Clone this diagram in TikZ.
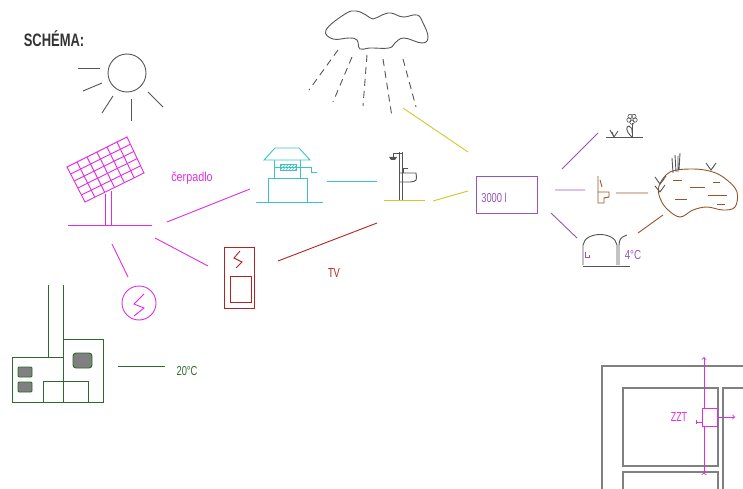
\documentclass[tikz,border=0pt]{standalone}
\usepackage{fontspec}
\setmainfont{Liberation Sans}
\usetikzlibrary{arrows,patterns,calc}

\definecolor{panelmag}{RGB}{225,45,225}
\definecolor{wellcyan}{RGB}{60,195,195}
\definecolor{heatred}{RGB}{180,35,35}
\definecolor{rainyel}{RGB}{210,200,40}
\definecolor{tankvio}{RGB}{150,85,190}
\definecolor{pondbrn}{RGB}{150,85,40}
\definecolor{boilgrn}{RGB}{45,105,45}
\definecolor{sketch}{RGB}{85,85,85}

\tikzset{
  lbl/.style={inner sep=0pt, xscale=0.72, font=\fontsize{13}{14}\selectfont},
  wall/.style={draw=gray, line width=1.3pt},
}

\begin{document}
\begin{tikzpicture}[x=1pt, y=-1pt, line width=0.9pt, >=to]
\useasboundingbox (0,0) rectangle (743,489);

\node[inner sep=0pt, xscale=0.72, text=black!80, font=\fontsize{18}{20}\selectfont\bfseries] (title) at (54,39) {SCHÉMA:};

% sun
\node[circle, draw=sketch, minimum size=38pt, inner sep=0pt] (sun) at (127,73) {};
\foreach \x/\y/\u/\v in {78/68/100/68, 83/91/102/83, 102/113/113/96,
                         131/121/131/99, 163/107/148/92}
  \draw[sketch] (\x,\y) -- (\u,\v);

% cloud and rain
\draw[sketch] plot[smooth cycle, tension=0.7] coordinates {
  (326,30) (345,14) (356,11) (366,15) (373,19) (382,15) (391,13) (403,17)
  (417,15) (423,23) (428,37) (422,43) (404,38) (395,43) (389,48) (370,48)
  (360,49) (357,40) (349,38) (333,39)};
\foreach \x/\y/\u/\v in {338/50/309/90, 352/57/333/102, 367/55/363/106,
                         383/59/392/117, 403/59/416/107}
  \draw[sketch, dash pattern=on 7pt off 5pt] (\x,\y) -- (\u,\v);

% solar panel
\coordinate (pA) at (67,167);
\coordinate (pB) at (127,137);
\coordinate (pC) at (144,173);
\coordinate (pD) at (85,202);
\draw[panelmag] (pA) -- (pB) -- (pC) -- (pD) -- cycle;
\foreach \i in {1,...,5}
  \draw[panelmag] ($(pA)!\i/6!(pB)$) -- ($(pD)!\i/6!(pC)$);
\foreach \j in {1,...,4}
  \draw[panelmag] ($(pA)!\j/5!(pD)$) -- ($(pB)!\j/5!(pC)$);
\draw[panelmag] (105,194) -- (105,225) (111,191) -- (111,225);
\draw[panelmag] (68,225) -- (152,225);
\node[lbl, xscale=1.15, text=panelmag] (pump) at (192,178) {čerpadlo};

% socket
\node[circle, draw=panelmag, minimum size=34pt, inner sep=0pt] (socket) at (139,303) {};
\draw[panelmag] (144,294) -- (134,304) -- (144,308) -- (134,316);

% heater
\node[draw=heatred, minimum width=30pt, minimum height=61pt, inner sep=0pt] (heater) at (239,277.5) {};
\draw[heatred] (230,276) rectangle (251,302);
\draw[heatred] (240,251) -- (234,258) -- (242,262) -- (236,268);
\node[lbl, text=heatred] (tv) at (334,273) {TV};

% well
\draw[wellcyan] (264,160) -- (275,148) -- (299,148) -- (310,160) -- cycle;
\draw[wellcyan] (274,160) -- (274,178) (300,160) -- (300,178);
\draw[wellcyan, pattern=north east lines, pattern color=wellcyan] (280,164) rectangle (296,170);
\draw[wellcyan] (274,167) -- (311,167) -- (311,172) -- (317,172);
\node[draw=wellcyan, minimum width=39pt, minimum height=24pt, inner sep=0pt] (well) at (287.5,190) {};
\draw[wellcyan] (256,202) -- (323,202);

% shower with sink
\draw[sketch] (399,200) -- (399,152) (402,200) -- (402,152);
\draw[sketch] (402,153) -- (393,153) -- (393,157);
\fill[sketch] (389,157) -- (397,157) -- (395,160) -- (391,160) -- cycle;
\draw[sketch] (400,173) -- (416,173) .. controls (417,181) .. (410,182) -- (400,182);
\draw[sketch] (403,173) -- (403,168) -- (408,168);
\draw[rainyel] (384,200) -- (425,200);

% tank
\node[draw=tankvio, minimum width=61pt, minimum height=37pt, inner sep=0pt] (tank) at (506.5,194.5) {};
\node[lbl, text=tankvio, anchor=south west] (vol) at (481,203.5) {3000 l};

% garden
\draw[sketch] (606,137) -- (643,137);
\draw[sketch] (610,130) -- (614,137) -- (618,131) (614,137) -- (612,132);
\draw[sketch] (632,137) -- (632,123);
\draw[sketch] (632,137) .. controls (625,131) and (626,126) .. (629,126) .. controls (632,128) .. (632,133);
\foreach \ang in {90,162,234,306,378}
  \draw[sketch, line width=0.6pt] (632,119) ++(\ang:3.2) circle (2.2pt);

% toilet
\draw[pondbrn] (598,176) -- (598,203) -- (604,203) -- (604,198) -- (609,197) -- (609,192) -- (598,192);
\draw[pondbrn] (600,180) -- (602,187);

% pond
\draw[pondbrn] plot[smooth cycle, tension=0.6] coordinates {
  (659,186) (670,172) (693,169) (713,172) (727,180) (737,192) (735,207)
  (723,210) (707,207) (693,210) (680,217) (667,209) (660,198)};
\foreach \x/\y/\u in {673/180/682, 690/187/705, 713/182/720, 675/199/687, 708/195/727, 717/204/725}
  \draw[pondbrn] (\x,\y) -- (\u,\y);
\draw[sketch] (672,158) -- (673,173) (675,155) -- (676,172) (678,156) -- (678,172) (680,153) -- (679,170);
\draw[sketch] (655,177) -- (660,184) -- (666,176) (660,184) -- (664,179);
\draw[sketch] (655,186) -- (660,192) -- (665,185);
\draw[sketch] (706,163) -- (711,170) -- (716,163) (711,170) -- (714,166);

% cellar
\draw[sketch] (583,265) -- (583,245) .. controls (585,231) and (615,231) .. (617,245) -- (617,265);
\draw[sketch] (619,265) -- (619,245) .. controls (620,238) .. (627,235);
\draw[sketch] (583,266) -- (630,266);
\draw[tankvio] (585,252) -- (585,257) -- (589,257) -- (589,255);
\node[lbl, xscale=1.05, text=tankvio] (temp-c) at (633,255) {4°C};

% boiler room
\draw[boilgrn] (48,285) -- (48,357) (63,285) -- (63,339);
\draw[boilgrn] (12,357) rectangle (63,402);
\draw[boilgrn] (63,339) rectangle (103,402);
\draw[boilgrn] (43,381) rectangle (88,402);
\draw[boilgrn, fill=gray, rounded corners=1pt] (18,367) rectangle (32,377);
\draw[boilgrn, fill=gray, rounded corners=1pt] (18,382) rectangle (32,392);
\draw[boilgrn, fill=gray, rounded corners=3pt] (73,353) rectangle (92,368);
\node[lbl, text=boilgrn] (temp-b) at (187,371) {20°C};

% plan
\draw[wall] (602,489) -- (602,366) -- (743,366);
\draw[wall] (623,388) rectangle (718,466);
\draw[wall] (743,388) -- (723,388) -- (723,489);
\draw[wall] (623,489) -- (623,472) -- (718,472) -- (718,489);
\draw[panelmag, to reversed-to] (704,475) -- (704,357);
\node[draw=panelmag, fill=white, minimum width=15pt, minimum height=18pt, inner sep=0pt] (zzt) at (709.5,417) {};
\draw[panelmag, ->] (zzt.east) -- (735,417);
\draw[panelmag] (696,420) -- (696,424) (696,422) -- (702,422);
\node[lbl, text=panelmag, xscale=0.95] (zzt-l) at (679,417) {ZZT};

% connectors
\coordinate (c1) at (167,222);  \coordinate (c2) at (250,189);
\coordinate (c3) at (155,238);  \coordinate (c4) at (208,266);
\coordinate (c5) at (112,244);  \coordinate (c6) at (128,277);
\coordinate (c7) at (327,181);  \coordinate (c8) at (377,181);
\coordinate (c9) at (278,261);  \coordinate (c10) at (377,223);
\coordinate (c11) at (403,108); \coordinate (c12) at (468,152);
\coordinate (c13) at (433,201); \coordinate (c14) at (468,191);
\coordinate (c15) at (562,169); \coordinate (c16) at (598,133);
\coordinate (c17) at (555,190); \coordinate (c18) at (585,190);
\coordinate (c19) at (551,213); \coordinate (c20) at (577,238);
\coordinate (c21) at (616,193); \coordinate (c22) at (648,193);
\coordinate (c23) at (638,233); \coordinate (c24) at (663,215);
\coordinate (c25) at (118,366); \coordinate (c26) at (165,366);
\draw[panelmag] (c1) -- (c2) (c3) -- (c4) (c5) -- (c6);
\draw[wellcyan] (c7) -- (c8);
\draw[heatred] (c9) -- (c10);
\draw[rainyel] (c11) -- (c12) (c13) -- (c14);
\draw[tankvio] (c15) -- (c16) (c17) -- (c18) (c19) -- (c20);
\draw[pondbrn] (c21) -- (c22) (c23) -- (c24);
\draw[boilgrn] (c25) -- (c26);
\end{tikzpicture}
\end{document}
